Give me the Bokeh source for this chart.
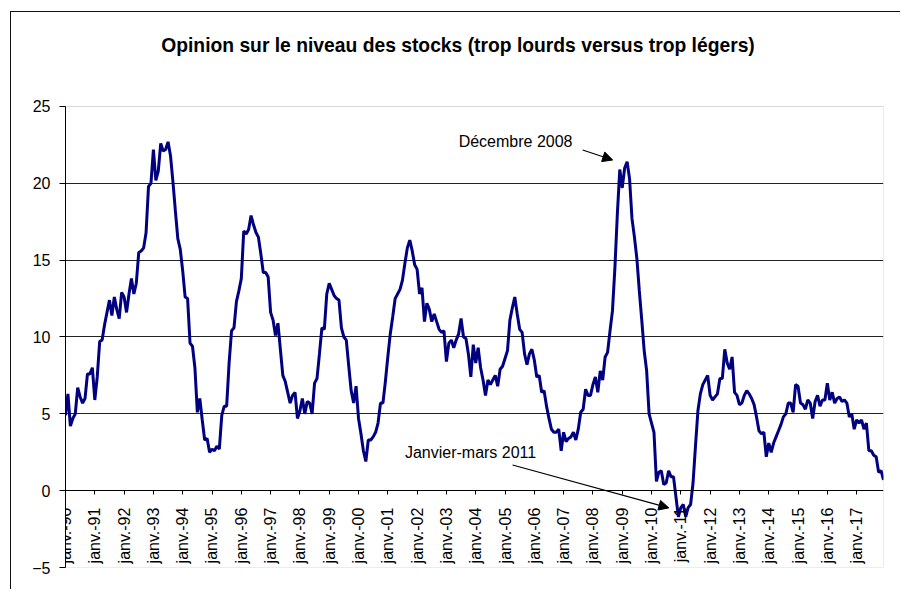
from bokeh.plotting import figure
from bokeh.models import Range1d, FixedTicker, Arrow, NormalHead, Label, BoxAnnotation
from bokeh.embed import file_html
from bokeh.resources import INLINE

# Monthly values, janv. 1990 -> déc. 2017
values = [
    4.9, 6.3, 4.2, 4.7, 5.0, 6.7, 6.1, 5.7, 6.0, 7.6, 7.6, 8.0,          # 1990
    5.9, 7.4, 9.7, 9.8, 10.8, 11.6, 12.4, 11.4, 12.6, 11.8, 11.2, 12.9,   # 1991
    12.6, 11.6, 12.8, 13.8, 12.8, 13.5, 15.5, 15.6, 15.8, 16.8, 19.8, 20.0,  # 1992
    22.2, 20.2, 20.8, 22.6, 22.1, 22.2, 22.7, 21.8, 20.1, 18.2, 16.4, 15.7,  # 1993
    14.3, 12.6, 12.5, 9.6, 9.4, 8.0, 5.1, 6.0, 4.6, 3.3, 3.4, 2.5,        # 1994
    2.7, 2.6, 2.9, 2.7, 4.9, 5.5, 5.5, 8.3, 10.4, 10.6, 12.3, 13.0,       # 1995
    13.8, 16.9, 16.7, 17.0, 17.9, 17.3, 16.8, 16.5, 15.4, 14.2, 14.2, 13.9,  # 1996
    11.6, 11.1, 10.1, 10.9, 9.2, 7.5, 7.1, 6.4, 5.7, 6.2, 6.4, 4.7,       # 1997
    5.2, 6.0, 5.0, 5.8, 5.7, 5.0, 7.0, 7.3, 8.9, 10.6, 10.5, 12.8,        # 1998
    13.5, 13.1, 12.7, 12.5, 12.4, 10.6, 10.0, 9.8, 8.1, 6.5, 5.7, 6.8,    # 1999
    4.7, 3.7, 2.6, 1.9, 3.3, 3.3, 3.5, 3.8, 4.4, 5.7, 5.7, 7.1,           # 2000
    8.7, 10.2, 11.3, 12.5, 12.8, 13.1, 13.7, 14.8, 15.8, 16.3, 15.6, 14.7,  # 2001
    14.4, 12.8, 13.2, 11.0, 12.2, 11.8, 11.0, 11.5, 11.0, 10.5, 10.3, 10.4,  # 2002
    8.4, 9.6, 9.8, 9.3, 9.8, 10.2, 11.2, 10.0, 9.9, 8.9, 7.4, 9.5,        # 2003
    8.3, 9.3, 8.0, 7.2, 6.2, 7.2, 6.9, 7.2, 7.5, 6.8, 7.9, 8.1,           # 2004
    8.6, 9.1, 11.1, 11.9, 12.6, 11.5, 10.5, 10.3, 8.9, 8.2, 8.9, 9.2,     # 2005
    8.5, 7.4, 7.5, 6.4, 6.5, 5.5, 4.7, 4.0, 3.8, 3.8, 4.0, 2.6,           # 2006
    3.8, 3.2, 3.4, 3.5, 3.8, 3.3, 4.0, 5.1, 5.3, 6.6, 6.2, 6.2,           # 2007
    6.9, 7.4, 6.4, 7.8, 7.2, 8.7, 9.0, 10.4, 11.7, 14.5, 18.0, 20.9,      # 2008
    19.7, 21.0, 21.4, 20.3, 17.7, 16.5, 15.1, 13.0, 11.1, 9.1, 7.8, 5.0,  # 2009
    4.4, 3.8, 0.6, 1.2, 1.3, 0.4, 0.5, 1.3, 0.9, 0.9, -0.4, -1.7,         # 2010
    -1.1, -0.9, -1.7, -1.1, -0.9, 0.5, 2.9, 5.2, 6.3, 6.9, 7.2, 7.5,      # 2011
    6.2, 5.9, 6.1, 6.3, 7.3, 7.3, 9.2, 8.3, 7.9, 8.7, 6.4, 6.2,           # 2012
    5.6, 5.7, 6.2, 6.5, 6.3, 6.0, 5.6, 4.8, 3.9, 3.7, 3.8, 2.2,           # 2013
    3.1, 2.5, 3.1, 3.5, 3.9, 4.3, 4.8, 5.0, 5.7, 5.7, 5.1, 6.9,           # 2014
    6.8, 5.7, 5.6, 5.3, 5.9, 5.7, 4.7, 5.8, 6.2, 5.5, 5.9, 5.9,           # 2015
    7.0, 5.9, 6.4, 5.7, 6.0, 6.1, 5.8, 5.9, 5.7, 4.8, 5.0, 4.0,           # 2016
    4.6, 4.4, 4.6, 4.0, 4.4, 2.6, 2.6, 2.3, 2.2, 1.2, 1.3, 0.7,           # 2017
]
months = list(range(len(values)))

tick_labels = [
    "janv.-90", "janv.-91", "janv.-92", "janv.-93", "janv.-94", "janv.-95",
    "janv.-96", "janv.-97", "janv.-98", "janv.-99", "janv.-00", "janv.-01",
    "janv.-02", "janv.-03", "janv.-04", "janv.-05", "janv.-06", "janv.-07",
    "janv.-08", "janv.-09", "janv.-10", "janv.-11", "janv.-12", "janv.-13",
    "janv.-14", "janv.-15", "janv.-16", "janv.-17",
]
tick_positions = [12 * k for k in range(len(tick_labels))]
y_ticks = [-5, 0, 5, 10, 15, 20, 25]

TITLE = "Opinion sur le niveau des stocks (trop lourds versus trop légers)"
FONT = "Liberation Sans"

X_MAX = len(values) - 1
Y_MIN, Y_MAX = y_ticks[0], y_ticks[-1]
Y_TOP = 31.117   # headroom above the plot area that holds the chart title

p = figure(
    width=890, height=578, title=None,
    output_backend="svg", toolbar_location=None,
    x_range=Range1d(0, X_MAX), y_range=Range1d(Y_MIN, Y_TOP),
    min_border_left=54, min_border_right=18, min_border_top=0, min_border_bottom=23,
)
p.styles = {"margin-left": "10px", "margin-top": "11px",
            "border-left": "1px solid #111", "border-top": "1px solid #111"}

p.outline_line_color = None
p.background_fill_color = "white"
p.border_fill_color = "white"

# plot-area box (grey), from -5 to 25
p.add_layout(BoxAnnotation(left=0, right=X_MAX, bottom=Y_MIN, top=Y_MAX,
                           fill_alpha=0, line_color="#808080", line_width=1,
                           level="underlay"))

# chart title
p.add_layout(Label(x=39.2, y=28.99, text=TITLE, text_font=FONT,
                   text_font_size="19.3px", text_font_style="bold",
                   text_color="black", text_baseline="alphabetic"))

# x axis at y = 0
p.xaxis.fixed_location = 0
p.xaxis.ticker = FixedTicker(ticks=tick_positions)
p.xaxis.major_label_overrides = {t: l for t, l in zip(tick_positions, tick_labels)}
p.xaxis.major_label_orientation = 1.5708
p.xaxis.major_label_text_font = FONT
p.xaxis.major_label_text_font_size = "16px"
p.xaxis.major_label_text_color = "black"
p.xaxis.axis_line_color = "black"
p.xaxis.major_tick_line_color = "black"
p.xaxis.major_tick_out = 4
p.xaxis.major_tick_in = 0
p.xaxis.minor_tick_line_color = None
p.xaxis.major_label_standoff = 13

p.yaxis.ticker = FixedTicker(ticks=y_ticks)
p.yaxis.bounds = (Y_MIN, Y_MAX)
p.yaxis.major_label_text_font = FONT
p.yaxis.major_label_text_font_size = "16px"
p.yaxis.major_label_text_color = "black"
p.yaxis.axis_line_color = "black"
p.yaxis.major_tick_line_color = "black"
p.yaxis.major_tick_out = 6
p.yaxis.major_tick_in = 0
p.yaxis.minor_tick_line_color = None
p.yaxis.major_label_standoff = 9

p.xgrid.visible = False
p.ygrid.ticker = FixedTicker(ticks=[5, 10, 15, 20])
p.ygrid.grid_line_color = "#222222"
p.ygrid.grid_line_width = 1

p.line(months, values, line_color="#000080", line_width=3)

# Annotations
p.add_layout(Label(x=161, y=22.7, text="Décembre 2008", text_font=FONT,
                   text_font_size="16px", text_baseline="middle", text_color="black"))
p.add_layout(Arrow(end=NormalHead(size=10, fill_color="black", line_color="black"),
                   x_start=211.8, y_start=22.17, x_end=224.1, y_end=21.52,
                   line_color="black", line_width=1.2))
p.add_layout(Label(x=139, y=2.5, text="Janvier-mars 2011", text_font=FONT,
                   text_font_size="16px", text_baseline="middle", text_color="black"))
p.add_layout(Arrow(end=NormalHead(size=10, fill_color="black", line_color="black"),
                   x_start=183.1, y_start=1.67, x_end=247.1, y_end=-1.12,
                   line_color="black", line_width=1.2))

open("out.html", "w").write(file_html(p, INLINE))
